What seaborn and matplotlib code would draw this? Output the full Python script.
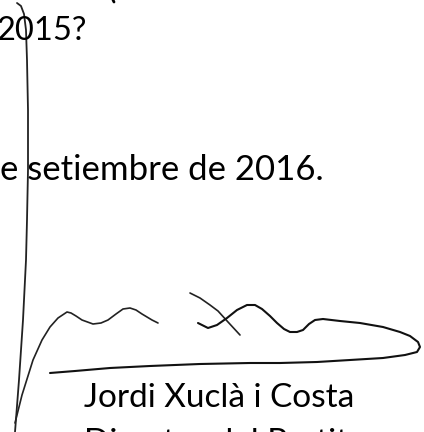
import matplotlib
matplotlib.use("Agg")
import matplotlib.pyplot as plt
import seaborn as sns

# text lines of the scanned letter (left edge cut off)
text_lines = ["2015?", "e setiembre de 2016.", "Jordi Xuclà i Costa", "Director del Partit"]
text_x = [-3, 0, 84, 84]
text_baseline = [40, 180, 407, 452]
text_size = [23.5, 25, 24, 24]

# signature strokes, traced in page pixels
stem_x = [17, 21, 24, 26, 27, 28, 28, 27, 26, 23, 19, 15]
stem_y = [3, 6, 14, 30, 60, 110, 170, 220, 260, 320, 380, 432]

wave_x = [15, 22, 33, 42, 50, 58, 67, 71, 76, 82, 93, 101, 108, 116, 123, 130, 136, 142, 147, 152, 158]
wave_y = [423, 395, 360, 340, 327, 318, 312, 313, 316, 320, 324, 323, 320, 314, 309, 308, 310, 314, 317, 320, 323]

cross_x = [190, 200, 210, 218, 228, 240]
cross_y = [293, 298, 305, 311, 322, 335]

loop_x = [198, 208, 217, 227, 237, 247, 255, 262, 270, 277, 284, 290, 297, 303, 309, 315, 323, 340, 360, 383, 400, 410, 418, 420, 417, 405, 383, 350, 317, 280, 250, 200, 150, 110, 75, 50]
loop_y = [323, 328, 325, 318, 310, 305, 305, 309, 316, 323, 329, 332, 332, 330, 324, 320, 319, 321, 323, 327, 332, 336, 342, 347, 352, 355, 358, 360, 362, 363, 363, 364, 366, 368, 371, 373]

sns.set_theme(style="white")
plt.rcParams["font.family"] = ["Lato", "DejaVu Sans"]

fig = plt.figure(figsize=(4.24, 4.32), dpi=100)
ax = fig.add_axes([0, 0, 1, 1])

sns.lineplot(x=stem_x, y=stem_y, sort=False, estimator=None, color="#222222", lw=1.3, ax=ax)
sns.lineplot(x=wave_x, y=wave_y, sort=False, estimator=None, color="#222222", lw=1.2, ax=ax)
sns.lineplot(x=cross_x, y=cross_y, sort=False, estimator=None, color="#222222", lw=1.2, ax=ax)
sns.lineplot(x=loop_x, y=loop_y, sort=False, estimator=None, color="#111111", lw=1.5, ax=ax)

for t, x, y, s in zip(text_lines, text_x, text_baseline, text_size):
    ax.text(x, y, t, fontsize=s, color="black", ha="left", va="baseline")

# small mark from the line above
ax.plot([113, 114], [0, 2], color="black", lw=2)

ax.set_xlim(0, 424)
ax.set_ylim(432, 0)
ax.axis("off")

fig.savefig("out.png", dpi=100)
